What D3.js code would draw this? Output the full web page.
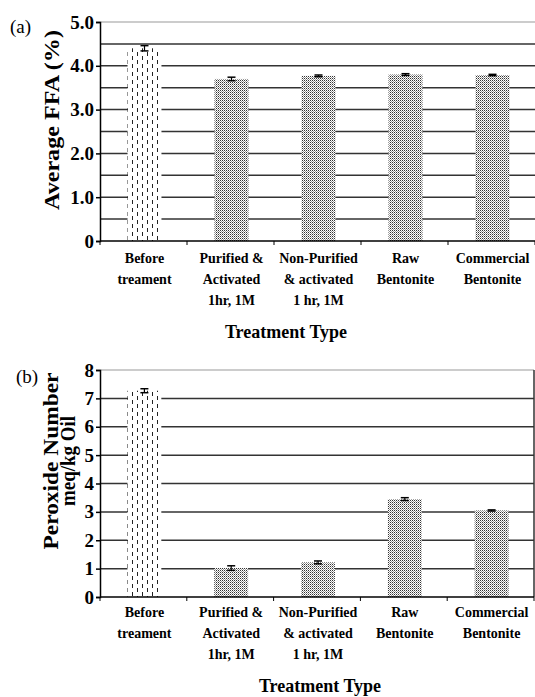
<!DOCTYPE html>
<html>
<head>
<meta charset="utf-8">
<script src="https://cdn.jsdelivr.net/npm/d3@7"></script>
<style>
  body { margin: 0; background: #fff; }
  svg { display: block; }
</style>
</head>
<body>
<svg id="chart" width="535" height="697"></svg>
<script>
const width = 535, height = 697;
const serif = '"Liberation Serif"';

// data
const categories = ["Before treament", "Purified & Activated 1hr, 1M", "Non-Purified & activated 1 hr, 1M", "Raw Bentonite", "Commercial Bentonite"];
const categoryLines = [
  ["Before", "treament"],
  ["Purified &", "Activated", "1hr, 1M"],
  ["Non-Purified", "& activated", "1 hr, 1M"],
  ["Raw", "Bentonite"],
  ["Commercial", "Bentonite"]
];
const ffaValues = [4.40, 3.70, 3.77, 3.80, 3.79];
const ffaErrors = [0.06, 0.04, 0.02, 0.02, 0.015];
const ffaTicks = [0, 1, 2, 3, 4, 5];
const ffaGrid = [0.5, 1, 1.5, 2, 2.5, 3, 3.5, 4, 4.5];
const peroxideValues = [7.27, 1.02, 1.22, 3.45, 3.05];
const peroxideErrors = [0.07, 0.08, 0.05, 0.05, 0.02];
const peroxideTicks = [0, 1, 2, 3, 4, 5, 6, 7, 8];
const peroxideGrid = [1, 2, 3, 4, 5, 6, 7];

const svg = d3.select("#chart");
const defs = svg.append("defs");

// dashed vertical lines for the untreated bar
const dash = defs.append("pattern")
  .attr("id", "dashes")
  .attr("patternUnits", "userSpaceOnUse")
  .attr("width", 10).attr("height", 8);
dash.append("rect").attr("width", 10).attr("height", 8).attr("fill", "#fff");
dash.append("rect").attr("x", 2).attr("y", 0).attr("width", 1).attr("height", 4).attr("fill", "#222");
dash.append("rect").attr("x", 7).attr("y", 4).attr("width", 1).attr("height", 4).attr("fill", "#222");

// fine dot texture for the other bars
const dots = defs.append("pattern")
  .attr("id", "dots")
  .attr("patternUnits", "userSpaceOnUse")
  .attr("width", 2).attr("height", 2);
dots.append("rect").attr("width", 2).attr("height", 2).attr("fill", "#fff");
dots.append("rect").attr("x", 0).attr("y", 0).attr("width", 1).attr("height", 1).attr("fill", "#333");
dots.append("rect").attr("x", 1).attr("y", 1).attr("width", 1).attr("height", 1).attr("fill", "#999");

function drawPanel(cfg) {
  const g = svg.append("g");

  const x = d3.scaleBand()
    .domain(categories)
    .range([cfg.left, cfg.right])
    .padding(0);

  const y = d3.scaleLinear()
    .domain([0, cfg.max])
    .range([cfg.bottom, cfg.top]);

  // plot border top
  g.append("line")
    .attr("x1", cfg.left).attr("x2", cfg.right)
    .attr("y1", y(cfg.max)).attr("y2", y(cfg.max))
    .attr("stroke", "#999").attr("stroke-width", 1);

  if (cfg.rightBorder) {
    g.append("line")
      .attr("x1", cfg.right).attr("x2", cfg.right)
      .attr("y1", y(cfg.max)).attr("y2", y(0))
      .attr("stroke", "#333").attr("stroke-width", 1.5);
  }

  // gridlines
  g.selectAll(".grid")
    .data(cfg.grid)
    .join("line")
    .attr("x1", cfg.left).attr("x2", cfg.right)
    .attr("y1", d => y(d)).attr("y2", d => y(d))
    .attr("stroke", "#333").attr("stroke-width", 1.5);

  // bars
  const barW = x.bandwidth() * 0.39;
  g.selectAll(".bar")
    .data(cfg.values)
    .join("rect")
    .attr("x", (d, i) => x(categories[i]) + x.bandwidth() / 2 - barW / 2 + 1)
    .attr("y", d => y(d))
    .attr("width", barW)
    .attr("height", d => y(0) - y(d))
    .attr("fill", (d, i) => i === 0 ? "url(#dashes)" : "url(#dots)");

  // error bars
  const eb = g.selectAll(".err")
    .data(cfg.values)
    .join("g")
    .attr("transform", (d, i) => `translate(${x(categories[i]) + x.bandwidth() / 2 + 1},0)`);
  eb.append("line")
    .attr("y1", (d, i) => y(d - cfg.errors[i]))
    .attr("y2", (d, i) => y(d + cfg.errors[i]))
    .attr("stroke", "#000").attr("stroke-width", 1.2);
  eb.append("line")
    .attr("x1", -4).attr("x2", 4)
    .attr("y1", (d, i) => y(d + cfg.errors[i]))
    .attr("y2", (d, i) => y(d + cfg.errors[i]))
    .attr("stroke", "#000").attr("stroke-width", 1.5);
  eb.append("line")
    .attr("x1", -4).attr("x2", 4)
    .attr("y1", (d, i) => y(d - cfg.errors[i]))
    .attr("y2", (d, i) => y(d - cfg.errors[i]))
    .attr("stroke", "#000").attr("stroke-width", 1.5);

  // y axis
  const yAxis = g.append("g")
    .attr("transform", `translate(${cfg.left},0)`)
    .call(d3.axisLeft(y).tickValues(cfg.ticks).tickSize(4).tickPadding(2)
      .tickFormat(cfg.tickFormat));
  yAxis.select(".domain").attr("stroke", "#000").attr("stroke-width", 1.5);
  yAxis.selectAll(".tick line").attr("stroke", "#000").attr("stroke-width", 1.5);
  yAxis.selectAll(".tick text")
    .style("font-family", serif)
    .attr("font-size", 19).attr("font-weight", "bold");

  // x axis
  const xAxis = g.append("g")
    .attr("transform", `translate(0,${cfg.bottom})`);
  xAxis.append("line")
    .attr("x1", cfg.left).attr("x2", cfg.right)
    .attr("stroke", "#000").attr("stroke-width", 1.5);
  xAxis.selectAll(".xtick")
    .data(categories.concat(["end"]))
    .join("line")
    .attr("x1", (d, i) => cfg.left + i * x.step())
    .attr("x2", (d, i) => cfg.left + i * x.step())
    .attr("y1", 0).attr("y2", 4)
    .attr("stroke", "#000").attr("stroke-width", 1);

  // category labels
  const lab = g.selectAll(".xlab")
    .data(categoryLines)
    .join("text")
    .style("font-family", serif)
    .attr("text-anchor", "middle")
    .attr("font-size", 14)
    .attr("font-weight", "bold");
  lab.selectAll("tspan")
    .data((d, i) => d.map(t => ({ t, i })))
    .join("tspan")
    .attr("x", d => x(categories[d.i]) + x.bandwidth() / 2 + 1)
    .attr("y", (d, j) => cfg.labelY + j * cfg.labelStep)
    .text(d => d.t);

  // x title
  g.append("text")
    .style("font-family", serif)
    .attr("x", cfg.xTitleX).attr("y", cfg.xTitleY)
    .attr("text-anchor", "middle")
    .attr("font-size", 18).attr("font-weight", "bold")
    .text("Treatment Type");

  // y title
  cfg.yTitle.forEach((t, k) => {
    g.append("text")
      .style("font-family", serif)
      .attr("transform", `translate(${cfg.yTitleX[k]},${cfg.yTitleY}) rotate(-90)`)
      .attr("text-anchor", "middle")
      .attr("font-size", 20).attr("font-weight", "bold")
      .attr("textLength", cfg.yTitleLen[k])
      .attr("lengthAdjust", "spacingAndGlyphs")
      .text(t);
  });

  // panel letter
  g.append("text")
    .style("font-family", serif)
    .attr("x", cfg.letterX).attr("y", cfg.letterY)
    .attr("font-size", 19)
    .text(cfg.letter);
}

drawPanel({
  left: 100, right: 535, top: 22, bottom: 241, max: 5,
  values: ffaValues, errors: ffaErrors,
  ticks: ffaTicks, grid: ffaGrid,
  tickFormat: d => d === 0 ? "0" : d3.format(".1f")(d),
  labelY: 263, labelStep: 21,
  xTitleX: 286, xTitleY: 338,
  yTitle: ["Average FFA (%)"], yTitleX: [59], yTitleY: 120, yTitleLen: [180],
  letter: "(a)", letterX: 10, letterY: 33,
  rightBorder: false
});

drawPanel({
  left: 100, right: 534, top: 370, bottom: 597, max: 8,
  values: peroxideValues, errors: peroxideErrors,
  ticks: peroxideTicks, grid: peroxideGrid,
  tickFormat: d3.format("d"),
  labelY: 617, labelStep: 21,
  xTitleX: 320, xTitleY: 692,
  yTitle: ["Peroxide Number", "meq/kg Oil"], yTitleX: [58, 75], yTitleY: 461, yTitleLen: [177, 90],
  letter: "(b)", letterX: 16, letterY: 383,
  rightBorder: true
});
</script>
</body>
</html>
